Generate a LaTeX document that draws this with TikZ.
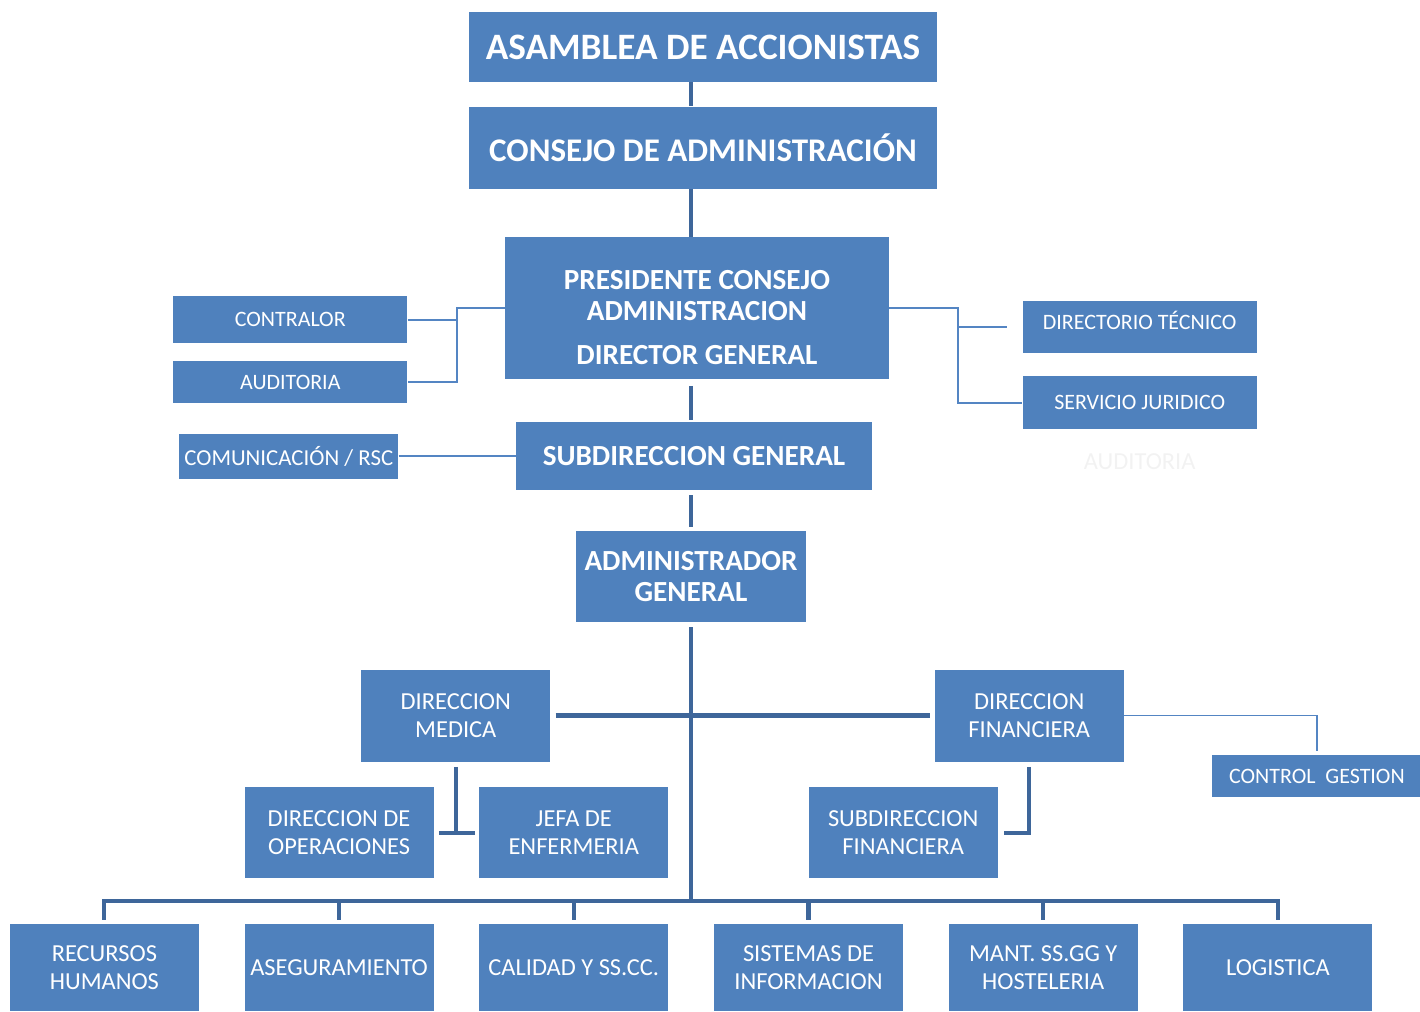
\documentclass[tikz,border=0pt]{standalone}
\usepackage{fontspec}
\setmainfont{Carlito}
\usetikzlibrary{positioning}
\definecolor{azul}{RGB}{79,129,189}
\definecolor{linea}{RGB}{62,102,154}
\definecolor{lineaclara}{RGB}{84,133,195}

\begin{document}
\begin{tikzpicture}[
				caja/.style={rectangle,fill=azul,text=white,inner sep=0pt,align=center,font=\fontsize{13.9}{15.7}\selectfont},
				lateral/.style={caja,minimum width=4.68cm,font=\fontsize{12.5}{14}\selectfont},
				mando/.style={caja,minimum width=3.78cm,minimum height=1.84cm},
				area/.style={caja,minimum width=3.78cm,minimum height=1.74cm},
				jefe/.style={caja,font=\bfseries\fontsize{16.6}{17.7}\selectfont},
				tronco/.style={draw=linea,line width=2.3pt},
				rama/.style={draw=lineaclara,line width=1.1pt}
				]
				\useasboundingbox (0,0) rectangle (28.4,-20.24);
				
				% Organos de gobierno
				\node[caja,minimum width=9.36cm,minimum height=1.4cm,font=\bfseries\fontsize{21.2}{24}\selectfont] (asamblea) at (14.06,-0.94) {ASAMBLEA DE ACCIONISTAS};
				\node[caja,below=0.48cm of asamblea,minimum width=9.36cm,minimum height=1.64cm,font=\bfseries\fontsize{18.8}{22}\selectfont] (consejo) {CONSEJO DE ADMINISTRACIÓN};
				\node[jefe,below=0.96cm of consejo,xshift=-0.12cm,minimum width=7.68cm,minimum height=2.84cm] (presidente) {\rule{0pt}{0.76cm}PRESIDENTE CONSEJO\\ADMINISTRACION\\[0.26cm]DIRECTOR GENERAL};
				\node[jefe,below=0.84cm of presidente,xshift=-0.06cm,minimum width=7.12cm,minimum height=1.36cm] (subdir) {SUBDIRECCION GENERAL};
				\node[jefe,below=0.8cm of subdir,xshift=-0.06cm,minimum width=4.6cm,minimum height=1.82cm] (admin) {ADMINISTRADOR\\GENERAL};
				
				% Staff
				\node[lateral,minimum height=0.94cm,below left=1.18cm and 1.94cm of presidente.north west] (contralor) {CONTRALOR};
				\node[lateral,minimum height=0.84cm,below=0.34cm of contralor] (auditoria) {AUDITORIA};
				\node[lateral,minimum width=4.38cm,minimum height=0.9cm,left=2.34cm of subdir,font=\fontsize{13}{14}\selectfont] (comunicacion) {COMUNICACIÓN / RSC};
				\node[lateral,minimum height=1.04cm,text depth=0.28cm,below right=1.28cm and 2.66cm of presidente.north east] (directorio) {DIRECTORIO TÉCNICO};
				\node[lateral,minimum height=1.06cm,below=0.44cm of directorio] (juridico) {SERVICIO JURIDICO};
				\node[below=0.36cm of juridico,text=black!5,font=\fontsize{13.9}{15.7}\selectfont] (auditoriab) {AUDITORIA};
				
				% Direcciones
				\node[mando,below left=0.94cm and 0.5cm of admin] (medica) {DIRECCION\\MEDICA};
				\node[mando,below right=0.94cm and 2.56cm of admin] (financiera) {DIRECCION\\FINANCIERA};
				\node[lateral,minimum width=4.18cm,minimum height=0.84cm,below right=-0.14cm and 1.76cm of financiera] (control) {CONTROL\ \ GESTION};
				\node[mando,minimum height=1.82cm,below=0.5cm of medica,xshift=2.36cm] (jefa) {JEFA DE\\ENFERMERIA};
				\node[mando,minimum height=1.82cm,left=0.9cm of jefa] (operaciones) {DIRECCION DE\\OPERACIONES};
				\node[mando,minimum height=1.82cm,below=0.5cm of financiera,xshift=-2.52cm] (subfin) {SUBDIRECCION\\FINANCIERA};
				
				% Areas
				\node[area,below=0.9cm of jefa] (calidad) {CALIDAD Y SS.CC.};
				\node[area,left=0.9cm of calidad] (aseguramiento) {ASEGURAMIENTO};
				\node[area,left=0.9cm of aseguramiento] (recursos) {RECURSOS\\HUMANOS};
				\node[area,right=0.9cm of calidad] (sistemas) {SISTEMAS DE\\INFORMACION};
				\node[area,right=0.9cm of sistemas] (mant) {MANT. SS.GG Y\\HOSTELERIA};
				\node[area,right=0.9cm of mant] (logistica) {LOGISTICA};
				
				% Linea de mando
				\draw[tronco] (asamblea.south -| admin) -- (consejo.north -| admin);
				\draw[tronco] (consejo.south -| admin) -- (presidente.north -| admin);
				\draw[tronco,shorten <=0.12cm,shorten >=0.04cm] (presidente.south -| admin) -- (subdir.north -| admin);
				\draw[tronco,shorten <=0.1cm,shorten >=0.06cm] (subdir.south -| admin) -- (admin.north);
				\coordinate[above=0.46cm of calidad] (bus);
				\draw[tronco,shorten <=0.1cm] (admin.south) -- (admin.south |- bus);
				\draw[tronco,shorten <=0.08cm,shorten >=0.08cm] (recursos.north) |- (bus) -| (logistica.north);
				\draw[tronco,shorten >=0.08cm] (aseguramiento.north |- bus) -- (aseguramiento.north);
				\draw[tronco,shorten >=0.08cm] (calidad.north |- bus) -- (calidad.north);
				\draw[tronco,shorten >=0.08cm] (sistemas.north |- bus) -- (sistemas.north);
				\draw[tronco,shorten >=0.08cm] (mant.north |- bus) -- (mant.north);
				
				% Dependencias
				\draw[tronco,shorten <=0.1cm,shorten >=0.08cm] (medica) -- (financiera);
				\draw[tronco,shorten <=0.1cm] (medica.south) -- (medica.south |- jefa.west);
				\draw[tronco,shorten <=0.1cm,shorten >=0.08cm] (operaciones) -- (jefa);
				\draw[tronco,shorten <=0.1cm,shorten >=0.12cm] (financiera.south) |- (subfin.east);
				\draw[rama,shorten >=0.08cm] (financiera.east) -| (control.north);
				
				% Staff
				\coordinate[left=0.96cm of presidente] (izq);
				\draw[rama] (presidente.west) -- (izq) |- (auditoria.east);
				\draw[rama] (contralor.east) -- (contralor.east -| izq);
				\coordinate[right=1.38cm of presidente] (der);
				\draw[rama] (presidente.east) -- (der) |- (juridico.west);
				\draw[rama,shorten >=0.3cm] (der |- directorio.west) -- (directorio.west);
				\draw[rama] (comunicacion) -- (subdir);
				
			\end{tikzpicture}
\end{document}
